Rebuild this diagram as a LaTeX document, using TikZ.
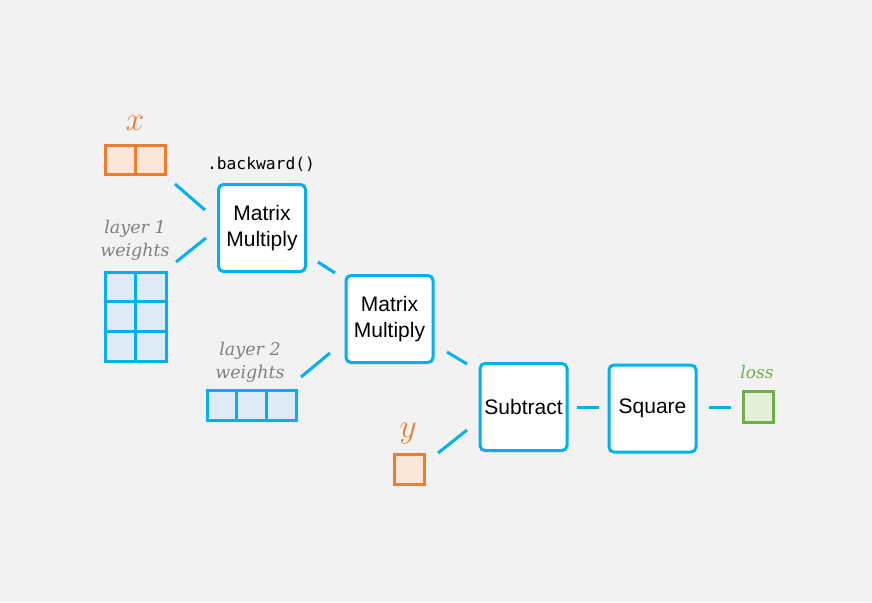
\documentclass[tikz,border=0pt]{standalone}
\usepackage{fontspec}
\setmainfont{Liberation Sans}
\newfontfamily\lblfont{DejaVu Serif}
\newfontfamily\codefont{DejaVu Sans Mono}
\usetikzlibrary{calc}
\definecolor{bg}{HTML}{F2F2F2}
\definecolor{opblue}{HTML}{00B0F0}
\definecolor{cellblue}{HTML}{DEEBF7}
\definecolor{orng}{HTML}{ED7D31}
\definecolor{orngfill}{HTML}{FBE5D6}
\definecolor{grn}{HTML}{70AD47}
\definecolor{grnfill}{HTML}{E2F0D9}
\definecolor{lblgray}{HTML}{808080}
\tikzset{
  opbox/.style={draw=opblue, fill=white, line width=3pt, rounded corners=5pt,
    minimum width=87pt, minimum height=87pt, inner sep=0pt, align=center,
    font=\fontsize{21}{26.5}\selectfont},
  bluegrid/.style={draw=opblue, fill=cellblue, line width=3pt, inner sep=0pt},
  orngrid/.style={draw=orng, fill=orngfill, line width=3pt, inner sep=0pt},
  grngrid/.style={draw=grn, fill=grnfill, line width=3pt, inner sep=0pt},
  gridline/.style={line width=3pt},
  conn/.style={draw=opblue, line width=3pt},
  wlabel/.style={text=lblgray, align=center, inner sep=0pt,
    font=\lblfont\itshape\fontsize{17.5}{23}\selectfont},
  varlabel/.style={text=orng, inner sep=0pt, scale=1.35, font=\fontsize{24}{24}\selectfont},
}
\begin{document}
\begin{tikzpicture}[x=1pt,y=-1pt]
\useasboundingbox[fill=bg] (0,0) rectangle (872,602);
% operation boxes
\node[opbox] (mm1) at (262,228) {Matrix\\Multiply};
\node[opbox] (mm2) at (389.5,319) {Matrix\\Multiply};
\node[opbox] (sub) at (523.5,407) {Subtract};
\node[opbox] (sq) at (652.5,408.5) {Square};
\node[font=\codefont\fontsize{16.3}{17}\selectfont, inner sep=0pt] (bw) at (261,164) {.backward()};
% x input
\node[orngrid, minimum width=60pt, minimum height=29pt] (xin) at (135,159.5) {};
\draw[orng, gridline] (xin.north) -- (xin.south);
\node[varlabel] (xlbl) at (135,123) {$x$};
% layer 1 weights
\node[bluegrid, minimum width=61pt, minimum height=89pt] (w1) at (135.5,316.5) {};
\draw[opblue, gridline] (w1.north) -- (w1.south);
\draw[opblue, gridline] ($(w1.north west)!1/3!(w1.south west)$) coordinate (w1a) -- ($(w1.north east)!1/3!(w1.south east)$);
\draw[opblue, gridline] ($(w1.north west)!2/3!(w1.south west)$) coordinate (w1b) -- ($(w1.north east)!2/3!(w1.south east)$);
\node[wlabel] (w1lbl) at (135,240) {layer 1\\weights};
% layer 2 weights
\node[bluegrid, minimum width=89pt, minimum height=30pt] (w2) at (251.5,405) {};
\draw[opblue, gridline] ($(w2.north west)!1/3!(w2.north east)$) -- ($(w2.south west)!1/3!(w2.south east)$);
\draw[opblue, gridline] ($(w2.north west)!2/3!(w2.north east)$) -- ($(w2.south west)!2/3!(w2.south east)$);
\node[wlabel] (w2lbl) at (250,362) {layer 2\\weights};
% y input
\node[orngrid, minimum width=30pt, minimum height=30pt] (yin) at (409,469) {};
\node[varlabel] (ylbl) at (408,434) {$y$};
% loss
\node[grngrid, minimum width=30pt, minimum height=31pt] (loss) at (758,406.5) {};
\node[text=grn, inner sep=0pt, font=\lblfont\itshape\fontsize{17}{17}\selectfont] (losslbl) at (757,372) {loss};
% connectors
\coordinate (c1a) at (175,184); \coordinate (c1b) at (205,210);
\coordinate (c2a) at (176,262); \coordinate (c2b) at (206,238);
\coordinate (c3a) at (318,262); \coordinate (c3b) at (335,273);
\coordinate (c4a) at (301,377); \coordinate (c4b) at (330,353);
\coordinate (c5a) at (447,352); \coordinate (c5b) at (467,364);
\coordinate (c6a) at (438,453); \coordinate (c6b) at (467,430);
\coordinate (c7a) at (577,407); \coordinate (c7b) at (599,407);
\coordinate (c8a) at (709,407); \coordinate (c8b) at (731,407);
\draw[conn] (c1a) -- (c1b);
\draw[conn] (c2a) -- (c2b);
\draw[conn] (c3a) -- (c3b);
\draw[conn] (c4a) -- (c4b);
\draw[conn] (c5a) -- (c5b);
\draw[conn] (c6a) -- (c6b);
\draw[conn] (c7a) -- (c7b);
\draw[conn] (c8a) -- (c8b);
\end{tikzpicture}
\end{document}
